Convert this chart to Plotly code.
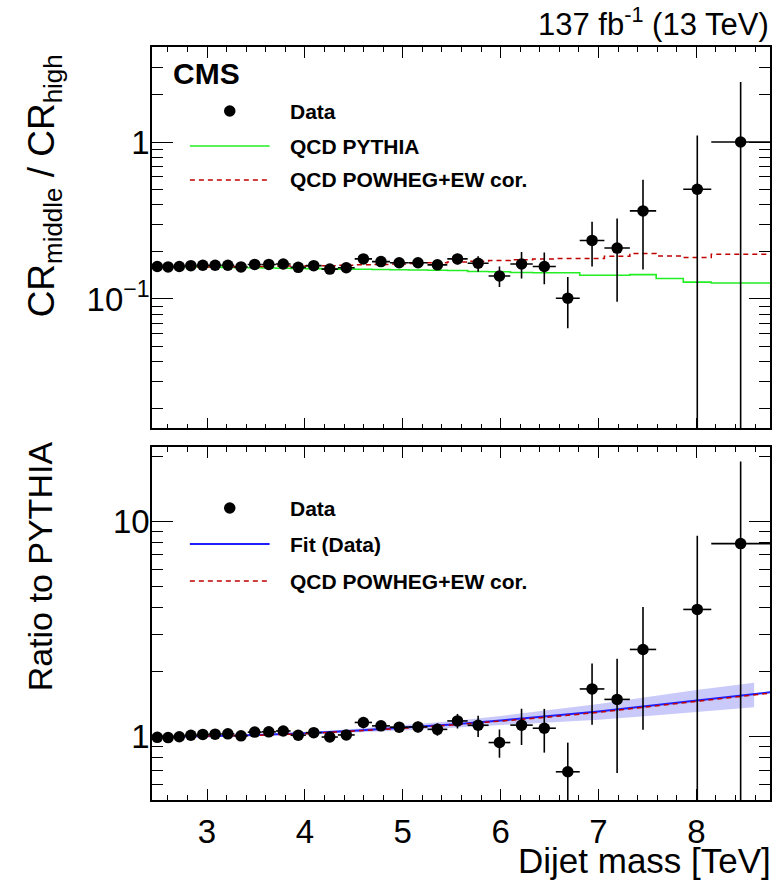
import numpy as np
import plotly.graph_objects as go

# Dijet mass bin edges [TeV]
edges = [2.438, 2.546, 2.659, 2.775, 2.895, 3.019, 3.147, 3.279, 3.416, 3.558,
         3.704, 3.854, 4.010, 4.171, 4.337, 4.509, 4.686, 4.869, 5.058, 5.253,
         5.455, 5.663, 5.877, 6.099, 6.328, 6.564, 6.808, 7.060, 7.320, 7.589,
         7.866, 8.152, 8.752]

# CR_middle / CR_high in data (None = empty bin)
data_ratio = [0.161, 0.160, 0.161, 0.163, 0.164, 0.164, 0.164, 0.160, 0.166, 0.166,
              0.167, 0.159, 0.163, 0.155, 0.158, 0.180, 0.173, 0.170, 0.170, 0.165,
              0.180, 0.169, 0.140, 0.167, 0.161, 0.101, 0.236, 0.211, 0.364, None,
              0.5, 1.0]
data_err_up = [0.001, 0.001, 0.001, 0.0012, 0.0013, 0.0015, 0.0017, 0.002, 0.0022, 0.0025,
               0.003, 0.0033, 0.004, 0.0045, 0.005, 0.011, 0.008, 0.009, 0.010, 0.011,
               0.014, 0.018, 0.021, 0.032, 0.037, 0.037, 0.074, 0.115, 0.21, None,
               0.60, 1.41]
data_err_dn = [0.001, 0.001, 0.001, 0.0012, 0.0013, 0.0015, 0.0017, 0.002, 0.0022, 0.0025,
               0.003, 0.0033, 0.004, 0.0045, 0.005, 0.011, 0.008, 0.009, 0.010, 0.011,
               0.014, 0.020, 0.021, 0.032, 0.037, 0.036, 0.075, 0.115, 0.21, None,
               0.5, 1.0]

# Simulated CR_middle / CR_high per bin
qcd_pythia = [0.162, 0.1615, 0.161, 0.1605, 0.160, 0.1595, 0.159, 0.1585, 0.158, 0.1575,
              0.157, 0.1565, 0.156, 0.1555, 0.155, 0.1545, 0.154, 0.1535, 0.153, 0.1525,
              0.152, 0.1495, 0.149, 0.1475, 0.147, 0.147, 0.1415, 0.1415, 0.143, 0.135,
              0.128, 0.1265]
qcd_powheg = [0.160, 0.160, 0.160, 0.160, 0.160, 0.160, 0.160, 0.161, 0.161, 0.161,
              0.162, 0.162, 0.163, 0.163, 0.164, 0.165, 0.166, 0.167, 0.168, 0.170,
              0.172, 0.174, 0.176, 0.178, 0.180, 0.181, 0.181, 0.187, 0.195, 0.188,
              0.184, 0.193]

# Fit to the data/PYTHIA ratio, its uncertainty band, and POWHEG/PYTHIA
fit_mass = [2.438, 3.0, 3.5, 4.0, 4.5, 5.0, 5.5, 6.0, 6.5, 7.0, 7.5, 8.0, 8.5, 8.752]
fit_ratio = [1.000, 1.005, 1.018, 1.037, 1.065, 1.100, 1.140, 1.190, 1.245, 1.310,
             1.390, 1.475, 1.565, 1.610]
powheg_ratio = [0.998, 1.003, 1.015, 1.033, 1.060, 1.094, 1.133, 1.180, 1.235, 1.298,
                1.375, 1.460, 1.550, 1.595]
band_mass = [2.438, 3.0, 3.5, 4.0, 4.5, 5.0, 5.5, 6.0, 6.5, 7.0, 7.5, 8.0, 8.59]
band_lo = [0.995, 1.000, 1.010, 1.025, 1.045, 1.070, 1.100, 1.130, 1.160, 1.200,
           1.250, 1.300, 1.370]
band_hi = [1.005, 1.010, 1.026, 1.050, 1.085, 1.130, 1.180, 1.250, 1.330, 1.420,
           1.530, 1.650, 1.780]

edges_a = np.array(edges)
centers = 0.5 * (edges_a[1:] + edges_a[:-1])
halfw = 0.5 * np.diff(edges_a)
have = [v is not None for v in data_ratio]
xc = centers[have]
hw = halfw[have]
dv = np.array([v for v in data_ratio if v is not None])
eu = np.array([v for v in data_err_up if v is not None])
ed = np.array([v for v in data_err_dn if v is not None])
py_sel = np.array(qcd_pythia)[have]
rv = dv / py_sel
reu = eu / py_sel
red_ = ed / py_sel

GREEN = "#22ee22"
RED = "#c00000"
BLUE = "#1f1fff"
FONT = "Liberation Sans"
TICK_SIZE = 33
LEG_SIZE = 21

fig = go.Figure()


def step(vals):
    return list(vals) + [vals[-1]]


# upper panel
fig.add_trace(go.Scatter(x=edges, y=step(qcd_pythia), mode="lines", line_shape="hv",
                         line=dict(color=GREEN, width=1.6), xaxis="x", yaxis="y",
                         showlegend=False))
fig.add_trace(go.Scatter(x=edges, y=step(qcd_powheg), mode="lines", line_shape="hv",
                         line=dict(color=RED, width=1.5, dash="5px,4px"),
                         xaxis="x", yaxis="y", showlegend=False))
fig.add_trace(go.Scatter(x=xc, y=dv, mode="markers",
                         marker=dict(color="black", size=11.5),
                         error_x=dict(type="data", array=hw, color="black", thickness=1.6, width=0),
                         error_y=dict(type="data", symmetric=False, array=eu, arrayminus=ed,
                                      color="black", thickness=1.6, width=0),
                         xaxis="x", yaxis="y", showlegend=False))

# lower panel
fig.add_trace(go.Scatter(x=band_mass, y=band_lo, mode="lines", line=dict(width=0),
                         xaxis="x2", yaxis="y2", showlegend=False, hoverinfo="skip"))
fig.add_trace(go.Scatter(x=band_mass, y=band_hi, mode="lines", line=dict(width=0),
                         fill="tonexty", fillcolor="rgba(100,100,240,0.35)",
                         xaxis="x2", yaxis="y2", showlegend=False))
fig.add_trace(go.Scatter(x=fit_mass, y=fit_ratio, mode="lines",
                         line=dict(color=BLUE, width=2), xaxis="x2", yaxis="y2",
                         showlegend=False))
fig.add_trace(go.Scatter(x=fit_mass, y=powheg_ratio, mode="lines",
                         line=dict(color=RED, width=1.5, dash="5px,4px"),
                         xaxis="x2", yaxis="y2", showlegend=False))
fig.add_trace(go.Scatter(x=xc, y=rv, mode="markers",
                         marker=dict(color="black", size=11.5),
                         error_x=dict(type="data", array=hw, color="black", thickness=1.6, width=0),
                         error_y=dict(type="data", symmetric=False, array=reu, arrayminus=red_,
                                      color="black", thickness=1.6, width=0),
                         xaxis="x2", yaxis="y2", showlegend=False))

# page geometry (pixels)
W, H = 778, 882
L, R, T, B = 152, 6, 47, 82
PW, PH = W - L - R, H - T - B


def px(x):
    return (x - L) / PW


def py(y):
    return (H - B - y) / PH


top_dom = [py(428.3), 1.0]
bot_dom = [0.0, py(446.7)]

axis_common = dict(showline=True, linecolor="black", linewidth=1.6, mirror="ticks",
                   ticks="inside", tickcolor="black", tickwidth=1.4, showgrid=False,
                   zeroline=False, tickfont=dict(family=FONT, size=TICK_SIZE, color="black"))

xmaj = dict(tickmode="linear", tick0=0, dtick=1, ticklen=11,
            minor=dict(tickmode="linear", tick0=0, dtick=0.2, ticklen=5, ticks="inside",
                       tickcolor="black", tickwidth=1.2, showgrid=False))

fig.update_layout(
    width=W, height=H, margin=dict(l=L, r=R, t=T, b=B),
    paper_bgcolor="white", plot_bgcolor="white", showlegend=False,
    xaxis=dict(**axis_common, **xmaj, range=[edges[0], edges[-1]], anchor="y",
               showticklabels=False, matches="x2"),
    xaxis2=dict(**axis_common, **xmaj, range=[edges[0], edges[-1]], anchor="y2",
                ticklabelstandoff=2),
    yaxis=dict(**axis_common, type="log", domain=top_dom, anchor="x",
               range=[np.log10(0.015), np.log10(4.03)],
               tickmode="array", tickvals=[0.1, 1], ticktext=["10<sup>\u22121</sup>", "1"],
               ticklen=21, ticklabelstandoff=-6,
               minor=dict(tickmode="array",
                          tickvals=[0.02, 0.03, 0.04, 0.05, 0.06, 0.07, 0.08, 0.09,
                                    0.2, 0.3, 0.4, 0.5, 0.6, 0.7, 0.8, 0.9, 2, 3, 4],
                          ticklen=11, ticks="inside", tickcolor="black", tickwidth=1.2,
                          showgrid=False)),
    yaxis2=dict(**axis_common, type="log", domain=bot_dom, anchor="x2",
                range=[np.log10(0.508), np.log10(22.3)],
                tickmode="array", tickvals=[1, 10], ticktext=["1", "10"],
                ticklen=21, ticklabelstandoff=-6,
                minor=dict(tickmode="array",
                           tickvals=[0.6, 0.7, 0.8, 0.9, 2, 3, 4, 5, 6, 7, 8, 9, 20],
                           ticklen=11, ticks="inside", tickcolor="black", tickwidth=1.2,
                           showgrid=False)),
)

ann = []
shapes = []


def text(x, y, s, size, bold=False, xanchor="left", angle=0):
    ann.append(dict(x=px(x), y=py(y), xref="paper", yref="paper", text=s, showarrow=False,
                    xanchor=xanchor, yanchor="middle", textangle=angle,
                    font=dict(family=FONT, size=size, color="black",
                              weight="bold" if bold else "normal")))


def legend_line(y, color, dash=None, width=1.6):
    shapes.append(dict(type="line", xref="paper", yref="paper", x0=px(190), x1=px(270),
                       y0=py(y), y1=py(y),
                       line=dict(color=color, width=width, dash=dash or "solid")))


def legend_dot(y):
    shapes.append(dict(type="circle", xref="paper", yref="paper", xsizemode="pixel",
                       ysizemode="pixel", xanchor=px(230), yanchor=py(y),
                       x0=-5.75, x1=5.75, y0=-5.75, y1=5.75, fillcolor="black",
                       line=dict(color="black", width=0)))


text(773, 22, "137 fb<sup>-1</sup> (13 TeV)", 31, xanchor="right")
text(171, 74, "CMS", 30, bold=True)

legend_dot(111)
text(288, 111, "Data", LEG_SIZE, bold=True)
legend_line(146, GREEN)
text(288, 146, "QCD PYTHIA", LEG_SIZE, bold=True)
legend_line(180, RED, "5px,4px", 1.5)
text(288, 180, "QCD POWHEG+EW cor.", LEG_SIZE, bold=True)

legend_dot(508)
text(288, 508, "Data", LEG_SIZE, bold=True)
legend_line(544, BLUE, width=2)
text(288, 544, "Fit (Data)", LEG_SIZE, bold=True)
legend_line(581, RED, "5px,4px", 1.5)
text(288, 581, "QCD POWHEG+EW cor.", LEG_SIZE, bold=True)

# axis titles
text(44, 186, "CR<sub>middle</sub> / CR<sub>high</sub>", 37, xanchor="center", angle=-90)
text(40, 566, "Ratio to PYTHIA", 34, xanchor="center", angle=-90)
text(775, 860, "Dijet mass [TeV]", 35, xanchor="right")

fig.update_layout(annotations=ann, shapes=shapes)
fig.write_html("out.html")
